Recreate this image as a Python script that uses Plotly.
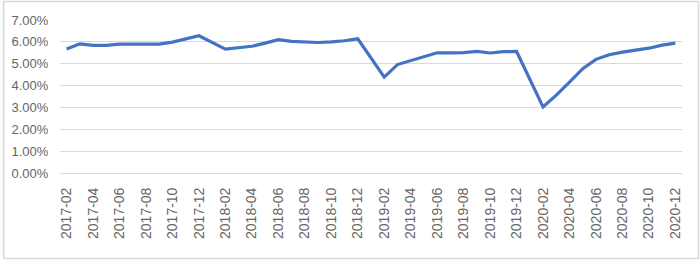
import plotly.graph_objects as go

# Monthly categories 2017-02 .. 2020-12 (January values not reported)
months = []
for y in range(2017, 2021):
    for m in range(1, 13):
        if y == 2017 and m == 1:
            continue
        months.append(f"{y}-{m:02d}")

values_2017 = [5.67, 5.91, 5.84, 5.84, 5.90, 5.90, 5.87, 5.90, 5.99, 6.12, 6.28]
values_2018 = [None, 5.67, 5.73, 5.80, 5.94, 6.10, 6.02, 6.00, 5.97, 6.00, 6.05, 6.14]
values_2019 = [None, 4.39, 4.96, 5.14, 5.34, 5.50, 5.50, 5.51, 5.56, 5.49, 5.55, 5.56]
values_2020 = [None, 3.02, 3.56, 4.16, 4.77, 5.20, 5.41, 5.53, 5.62, 5.71, 5.85, 5.94]

values_pct = values_2017 + values_2018 + values_2019 + values_2020
values = [None if v is None else v / 100 for v in values_pct]

tick_labels = months[::2]
y_ticks = [0, 0.01, 0.02, 0.03, 0.04, 0.05, 0.06, 0.07]

fig = go.Figure()
fig.add_trace(go.Scatter(
    x=months, y=values, mode="lines", connectgaps=True,
    line=dict(color="#4472C4", width=3.2),
    hoverinfo="x+y",
))

L, R, T, B = 58, 18, 20, 87
W, H = 700, 260
pw, ph = W - L - R, H - T - B

fig.update_layout(
    width=W, height=H,
    margin=dict(l=L, r=R, t=T, b=B),
    paper_bgcolor="white", plot_bgcolor="white",
    showlegend=False,
    font=dict(family="Liberation Sans, Arial, sans-serif", size=12, color="#595959"),
    xaxis=dict(
        type="category", categoryorder="array", categoryarray=months,
        tickmode="array", tickvals=tick_labels, ticktext=tick_labels,
        tickangle=-90, range=[-0.5, len(months) - 0.5],
        showgrid=False, zeroline=False, showline=False,
        ticks="outside", ticklen=8, tickcolor="rgba(0,0,0,0)",
        tickfont=dict(size=14, color="#666666"),
    ),
    yaxis=dict(
        range=[0, 0.07], tickvals=y_ticks, tickformat=".2%",
        showgrid=True, gridcolor="#d9d9d9", gridwidth=1,
        zeroline=True, zerolinecolor="#d9d9d9", zerolinewidth=1,
        showline=False,
        ticks="outside", ticklen=8, tickcolor="rgba(0,0,0,0)",
        tickfont=dict(size=13, color="#666666"),
    ),
    shapes=[dict(
        type="rect", xref="paper", yref="paper",
        x0=(1.5 - L) / pw, x1=(698.5 - L) / pw,
        y0=(H - B - 258.5) / ph, y1=(H - B - 1.5) / ph,
        line=dict(color="#d9d9d9", width=1.5), fillcolor="rgba(0,0,0,0)",
        layer="below",
    )],
)

fig.write_html("out.html")
